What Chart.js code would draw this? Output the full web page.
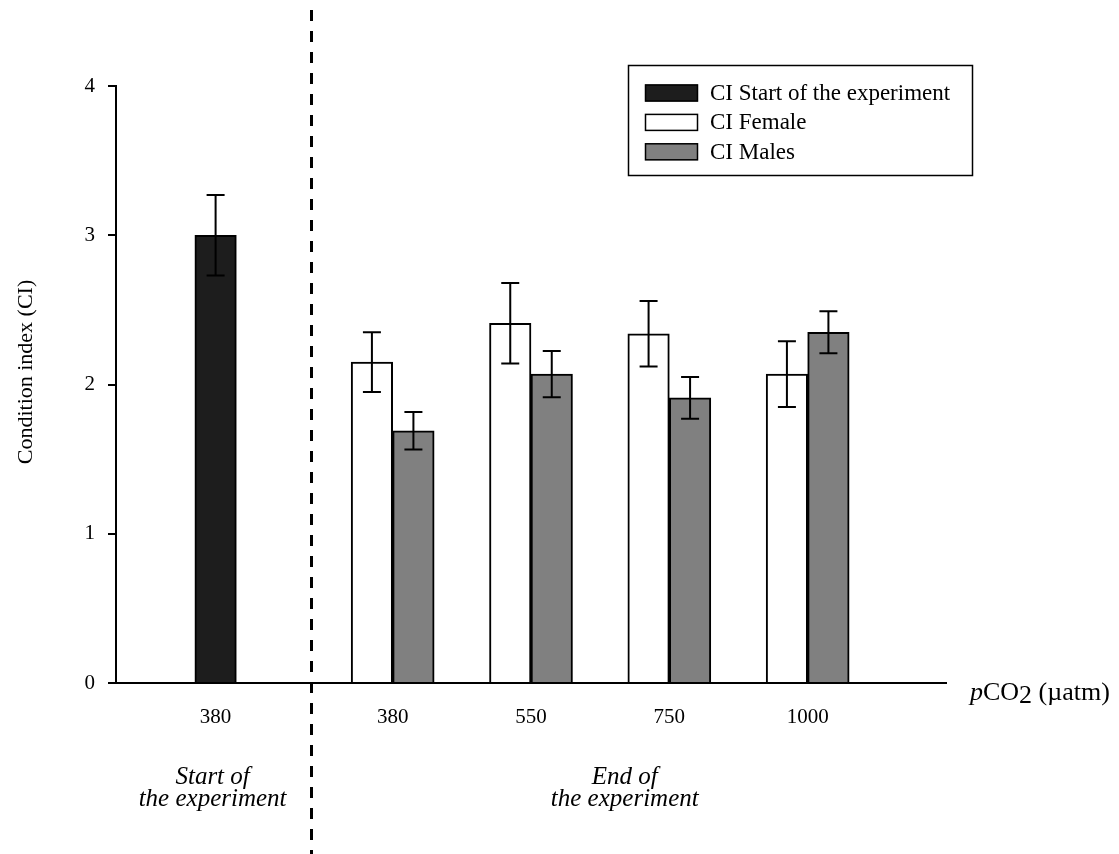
<!DOCTYPE html>
<html>
<head>
<meta charset="utf-8">
<title>Condition index</title>
<script src="https://cdn.jsdelivr.net/npm/chart.js@4.4.1/dist/chart.umd.min.js"></script>
<style>
  html, body { margin: 0; padding: 0; background: #ffffff; }
  #wrap { width: 1119px; height: 854px; position: relative; }
</style>
</head>
<body>
<div id="wrap"><canvas id="chart"></canvas></div>
<script>
// pCO2 treatments (µatm) sampled at the end of the experiment
const treatments = ['380', '550', '750', '1000'];
// pCO2 of the initial sample
const startTreatment = '380';

// Condition index of the initial sample (mean and error)
const startCI = [3.00];
const startErr = [0.27];

// Condition index at the end of the experiment, per treatment
const femaleCI = [2.15, 2.41, 2.34, 2.07];
const femaleErr = [0.20, 0.27, 0.22, 0.22];
const maleCI = [1.69, 2.07, 1.91, 2.35];
const maleErr = [0.125, 0.155, 0.14, 0.14];

const yTicks = [0, 1, 2, 3, 4];
const seriesNames = ['CI Start of the experiment', 'CI Female', 'CI Males'];
const periodNames = [['Start of', 'the experiment'], ['End of', 'the experiment']];

// Horizontal layout in slot units: initial sample, divider, then one slot per treatment
const X_MIN = 0, X_MAX = 6;
const START_SLOT = 0.72;
const DIVIDER_SLOT = 1.41;
const FIRST_SLOT = 2;
const groupSlots = treatments.map((_, i) => FIRST_SLOT + i);
const tickSlots = [START_SLOT, ...groupSlots];
const tickLabels = [startTreatment, ...treatments];

const SERIF = "'Liberation Serif', 'Times New Roman', serif";
Chart.defaults.font.family = SERIF;
Chart.defaults.color = '#000';

// Error bars, divider, legend box and free-standing labels
const decorations = {
  id: 'decorations',
  afterDatasetsDraw(chart) {
    const ctx = chart.ctx;
    const y = chart.scales.y;
    ctx.save();
    ctx.strokeStyle = '#000';
    ctx.lineWidth = 2;
    chart.data.datasets.forEach((ds, di) => {
      const meta = chart.getDatasetMeta(di);
      meta.data.forEach((bar, i) => {
        const v = ds.data[i].y, e = ds.errors[i];
        const yt = y.getPixelForValue(v + e), yb = y.getPixelForValue(v - e);
        const cap = 9;
        ctx.beginPath();
        ctx.moveTo(bar.x, yt); ctx.lineTo(bar.x, yb);
        ctx.moveTo(bar.x - cap, yt); ctx.lineTo(bar.x + cap, yt);
        ctx.moveTo(bar.x - cap, yb); ctx.lineTo(bar.x + cap, yb);
        ctx.stroke();
      });
    });
    ctx.restore();
  },
  afterDraw(chart) {
    const ctx = chart.ctx;
    const xs = chart.scales.x;
    const area = chart.chartArea;
    ctx.save();

    // dashed separator between the two sampling times
    const xd = Math.round(xs.getPixelForValue(DIVIDER_SLOT)) + 0.5;
    ctx.strokeStyle = '#000';
    ctx.lineWidth = 3;
    ctx.setLineDash([11, 10]);
    ctx.beginPath();
    ctx.moveTo(xd, 10);
    ctx.lineTo(xd, chart.height);
    ctx.stroke();
    ctx.setLineDash([]);

    // period captions under the tick labels
    ctx.fillStyle = '#000';
    ctx.font = 'italic 25px ' + SERIF;
    ctx.textAlign = 'center';
    ctx.textBaseline = 'alphabetic';
    const centers = [xs.getPixelForValue(START_SLOT) - 3, (xd + area.right) / 2 - 4];
    periodNames.forEach((lines, k) => {
      lines.forEach((t, j) => ctx.fillText(t, centers[k], 784 + j * 22));
    });

    // y-axis title
    ctx.save();
    ctx.font = '22px ' + SERIF;
    ctx.translate(32, 372);
    ctx.rotate(-Math.PI / 2);
    ctx.textAlign = 'center';
    ctx.fillText('Condition index (CI)', 0, 0);
    ctx.restore();

    // x-axis title: pCO2 (µatm)
    let tx = area.right + 24;
    const ty = 700;
    ctx.textAlign = 'left';
    const parts = [
      ['p', 'italic 26px ', 0],
      ['CO', '26px ', 0],
      ['2', '26px ', 3],
      [' (\u00b5atm)', '26px ', 0]
    ];
    parts.forEach(([t, f, dy]) => {
      ctx.font = f + SERIF;
      ctx.fillText(t, tx, ty + dy);
      tx += ctx.measureText(t).width;
    });

    // legend box
    const L = { x: 628, y: 65, w: 344, h: 110 };
    ctx.lineWidth = 1.5;
    ctx.strokeStyle = '#000';
    ctx.strokeRect(L.x + 0.5, L.y + 0.5, L.w, L.h);
    ctx.font = '23px ' + SERIF;
    ctx.textBaseline = 'middle';
    chart.data.datasets.forEach((ds, i) => {
      const cy = 93 + i * 29.4;
      ctx.fillStyle = ds.backgroundColor;
      ctx.fillRect(645, cy - 8.5, 53, 17);
      ctx.lineWidth = 1.5;
      ctx.strokeRect(645.5, cy - 8, 52, 16);
      ctx.fillStyle = '#000';
      ctx.fillText(ds.label, 710, cy + 1);
    });
    ctx.restore();
  }
};

const barStyle = { borderColor: '#000', borderWidth: 2, barThickness: 41.5, borderSkipped: 'start' };

new Chart(document.getElementById('chart'), {
  type: 'bar',
  data: {
    datasets: [
      Object.assign({
        label: seriesNames[0],
        xAxisID: 'xs',
        data: startCI.map(v => ({ x: START_SLOT, y: v })),
        errors: startErr,
        backgroundColor: '#1d1d1d'
      }, barStyle, { grouped: false, maxBarThickness: 42 }),
      Object.assign({
        label: seriesNames[1],
        xAxisID: 'x',
        data: femaleCI.map((v, i) => ({ x: groupSlots[i], y: v })),
        errors: femaleErr,
        backgroundColor: '#ffffff'
      }, barStyle),
      Object.assign({
        label: seriesNames[2],
        xAxisID: 'x',
        data: maleCI.map((v, i) => ({ x: groupSlots[i], y: v })),
        errors: maleErr,
        backgroundColor: '#808080'
      }, barStyle)
    ]
  },
  options: {
    responsive: true,
    maintainAspectRatio: false,
    animation: false,
    layout: { padding: { top: 86, right: 173, bottom: 0, left: 0 } },
    plugins: { legend: { display: false }, tooltip: { enabled: false } },
    scales: {
      x: {
        type: 'linear',
        position: 'bottom',
        offset: false,
        min: X_MIN,
        max: X_MAX,
        afterBuildTicks: s => { s.ticks = tickSlots.map(v => ({ value: v })); },
        afterFit: s => { s.height = 171; },
        ticks: {
          callback: (v, i) => tickLabels[i],
          font: { size: 21 },
          color: '#000',
          padding: 22,
          autoSkip: false,
          maxRotation: 0
        },
        grid: { display: false, drawTicks: false },
        border: { display: true, color: '#000', width: 2 }
      },
      xs: {
        type: 'linear',
        position: 'bottom',
        display: false,
        offset: false,
        min: X_MIN,
        max: X_MAX
      },
      y: {
        min: 0,
        max: 4,
        afterBuildTicks: s => { s.ticks = yTicks.map(v => ({ value: v })); },
        afterFit: s => { s.width = 116; },
        ticks: { font: { size: 21 }, color: '#000', padding: 13 },
        grid: { drawOnChartArea: false, drawTicks: true, tickLength: 8, color: '#000', lineWidth: 2 },
        border: { display: true, color: '#000', width: 2 }
      }
    }
  },
  plugins: [decorations]
});
</script>
</body>
</html>
